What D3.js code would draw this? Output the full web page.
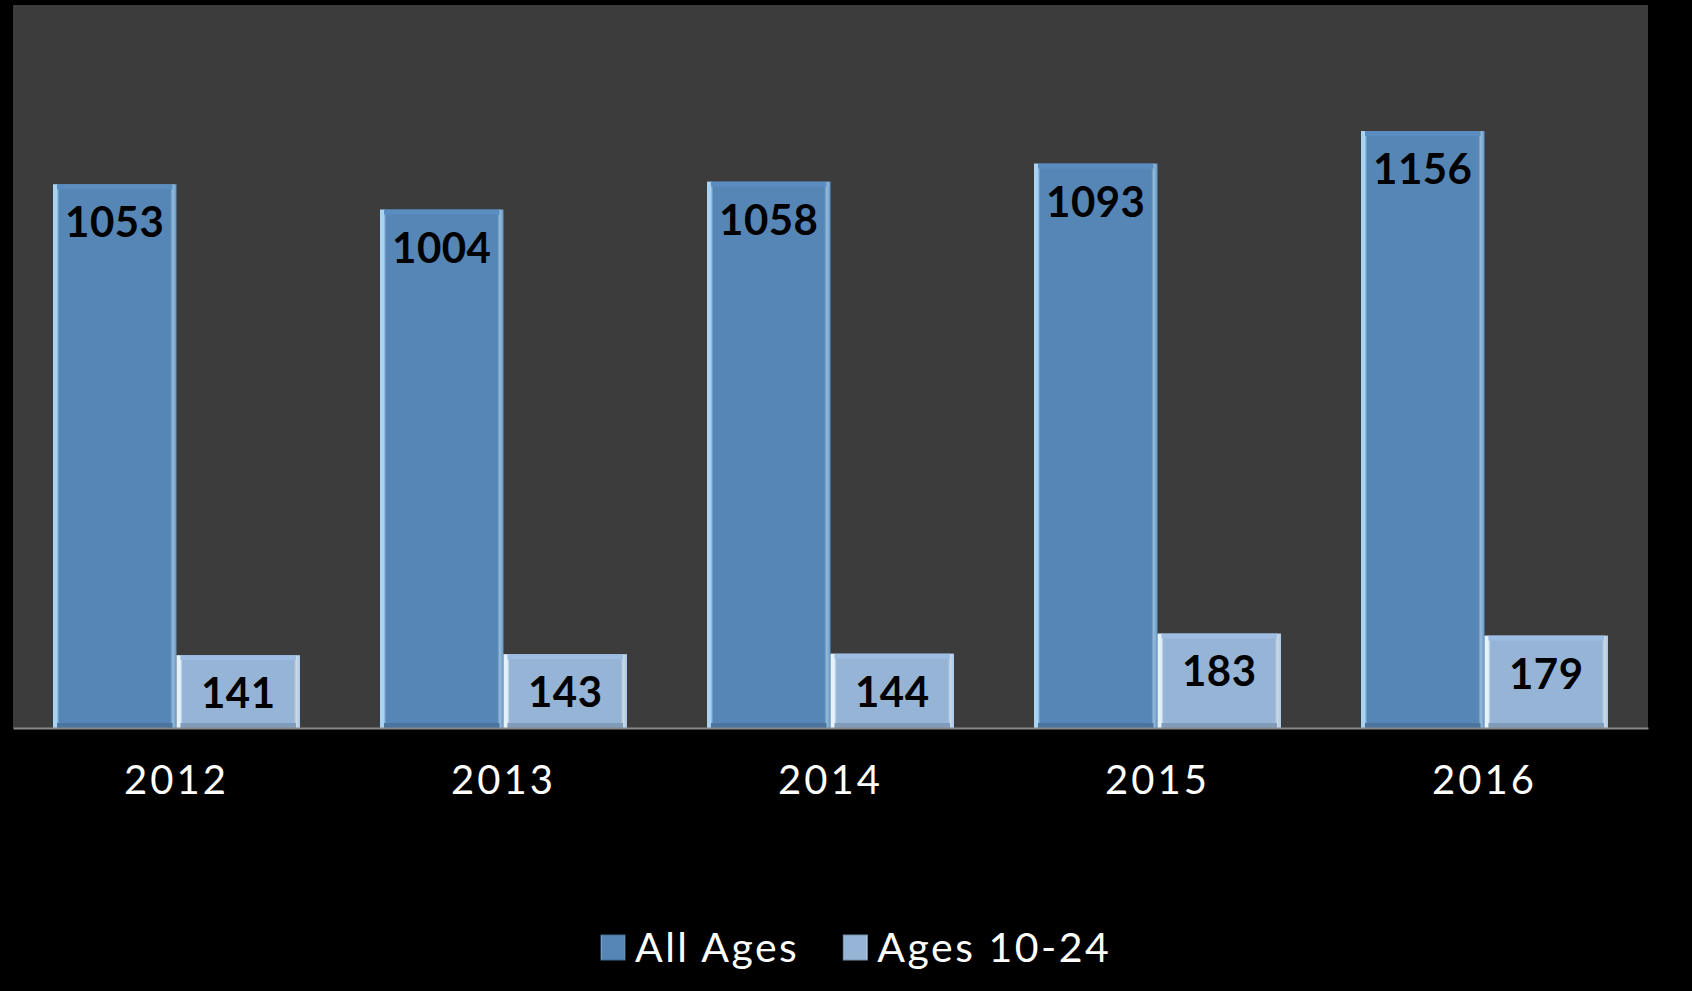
<!DOCTYPE html>
<html>
<head>
<meta charset="utf-8">
<script src="https://cdn.jsdelivr.net/npm/d3@7"></script>
<style>
  body { margin: 0; background: #000; }
  svg { display: block; }
  .bar-label { font-family: Lato, sans-serif; font-weight: 700; font-size: 42px; fill: #000; letter-spacing: 0.5px; }
  .tick text { font-family: Lato, sans-serif; font-size: 40px; fill: #fff; letter-spacing: 3px; }
  .legend text { font-family: Lato, sans-serif; font-size: 41px; fill: #fff; letter-spacing: 2.5px; }
</style>
</head>
<body>
<svg width="1692" height="991"></svg>
<script>
  // chart data
  const years = ['2012', '2013', '2014', '2015', '2016'];
  const seriesNames = ['All Ages', 'Ages 10-24'];
  const allAges = [1053, 1004, 1058, 1093, 1156];
  const ages10to24 = [141, 143, 144, 183, 179];

  const svg = d3.select('svg');
  const width = +svg.attr('width');
  const height = +svg.attr('height');

  const margin = { top: 5, right: 44, bottom: 263, left: 13 };
  const innerWidth = width - margin.left - margin.right;
  const innerHeight = height - margin.top - margin.bottom;

  const colors = { 'All Ages': '#5686b6', 'Ages 10-24': '#95b4d6' };
  const highlights = { 'All Ages': '#a9d3f2', 'Ages 10-24': '#e4f2fc' };

  const data = years.map((y, i) => ({ year: y, values: [
    { key: seriesNames[0], value: allAges[i] },
    { key: seriesNames[1], value: ages10to24[i] }
  ]}));

  const xScale = d3.scaleBand().domain(years).range([0, innerWidth]).paddingInner(0).paddingOuter(0);
  const xInner = d3.scaleBand().domain(seriesNames)
    .range([40, xScale.bandwidth() - 40]);
  const yScale = d3.scaleLinear().domain([0, 1400]).range([innerHeight, 0]);

  const g = svg.append('g').attr('transform', `translate(${margin.left},${margin.top})`);

  // plot area background
  g.append('rect')
    .attr('width', innerWidth).attr('height', innerHeight)
    .attr('fill', '#3c3c3c');

  // bevel gradients
  const defs = svg.append('defs');
  seriesNames.forEach((name, i) => {
    const grad = defs.append('linearGradient').attr('id', 'grad' + i)
      .attr('x1', 0).attr('x2', 1).attr('y1', 0).attr('y2', 0);
    grad.append('stop').attr('offset', '0%').attr('stop-color', highlights[name]);
    grad.append('stop').attr('offset', '3%').attr('stop-color', highlights[name]);
    grad.append('stop').attr('offset', '5%').attr('stop-color', colors[name]);
    grad.append('stop').attr('offset', '95%').attr('stop-color', colors[name]);
    grad.append('stop').attr('offset', '97%').attr('stop-color', d3.color(highlights[name]).darker(0.3));
    grad.append('stop').attr('offset', '100%').attr('stop-color', d3.color(colors[name]).brighter(0.3));
  });

  const groups = g.selectAll('.year').data(data).enter().append('g')
    .attr('class', 'year')
    .attr('transform', d => `translate(${xScale(d.year)},0)`);

  const bars = groups.selectAll('.bar').data(d => d.values).enter().append('g').attr('class', 'bar');

  bars.append('rect')
    .attr('x', d => xInner(d.key))
    .attr('y', d => yScale(d.value))
    .attr('width', xInner.bandwidth())
    .attr('height', d => innerHeight - yScale(d.value))
    .attr('fill', (d, i) => `url(#grad${i})`);

  // top and bottom bevel edges
  bars.append('rect')
    .attr('x', d => xInner(d.key) + 4)
    .attr('y', d => yScale(d.value))
    .attr('width', xInner.bandwidth() - 8)
    .attr('height', 5)
    .attr('fill', d => d3.color(colors[d.key]).brighter(0.15));
  bars.append('rect')
    .attr('x', d => xInner(d.key) + 4)
    .attr('y', innerHeight - 5)
    .attr('width', xInner.bandwidth() - 8)
    .attr('height', 5)
    .attr('fill', d => d3.color(colors[d.key]).darker(0.4));

  bars.append('text')
    .attr('class', 'bar-label')
    .attr('x', d => xInner(d.key) + xInner.bandwidth() / 2)
    .attr('y', d => yScale(d.value) + 53)
    .attr('text-anchor', 'middle')
    .text(d => d.value);

  // x axis
  const xAxisG = g.append('g')
    .attr('transform', `translate(0,${innerHeight})`)
    .call(d3.axisBottom(xScale).tickSize(0).tickPadding(38));
  xAxisG.select('.domain').attr('stroke', '#8a8a8a').attr('stroke-width', 2);

  // legend, second item placed after the first one's text
  const legend = svg.append('g').attr('class', 'legend');
  let legendX = 601;
  seriesNames.forEach((name, i) => {
    const lg = legend.append('g').attr('transform', `translate(${legendX},935)`);
    lg.append('rect').attr('width', 24).attr('height', 25).attr('fill', `url(#grad${i})`)
      .attr('stroke', d3.color(colors[name]).darker(0.6)).attr('stroke-width', 1);
    const t = lg.append('text').attr('x', 34).attr('y', 27).text(name);
    legendX += 34 + t.node().getComputedTextLength() + 44;
  });
</script>
</body>
</html>
